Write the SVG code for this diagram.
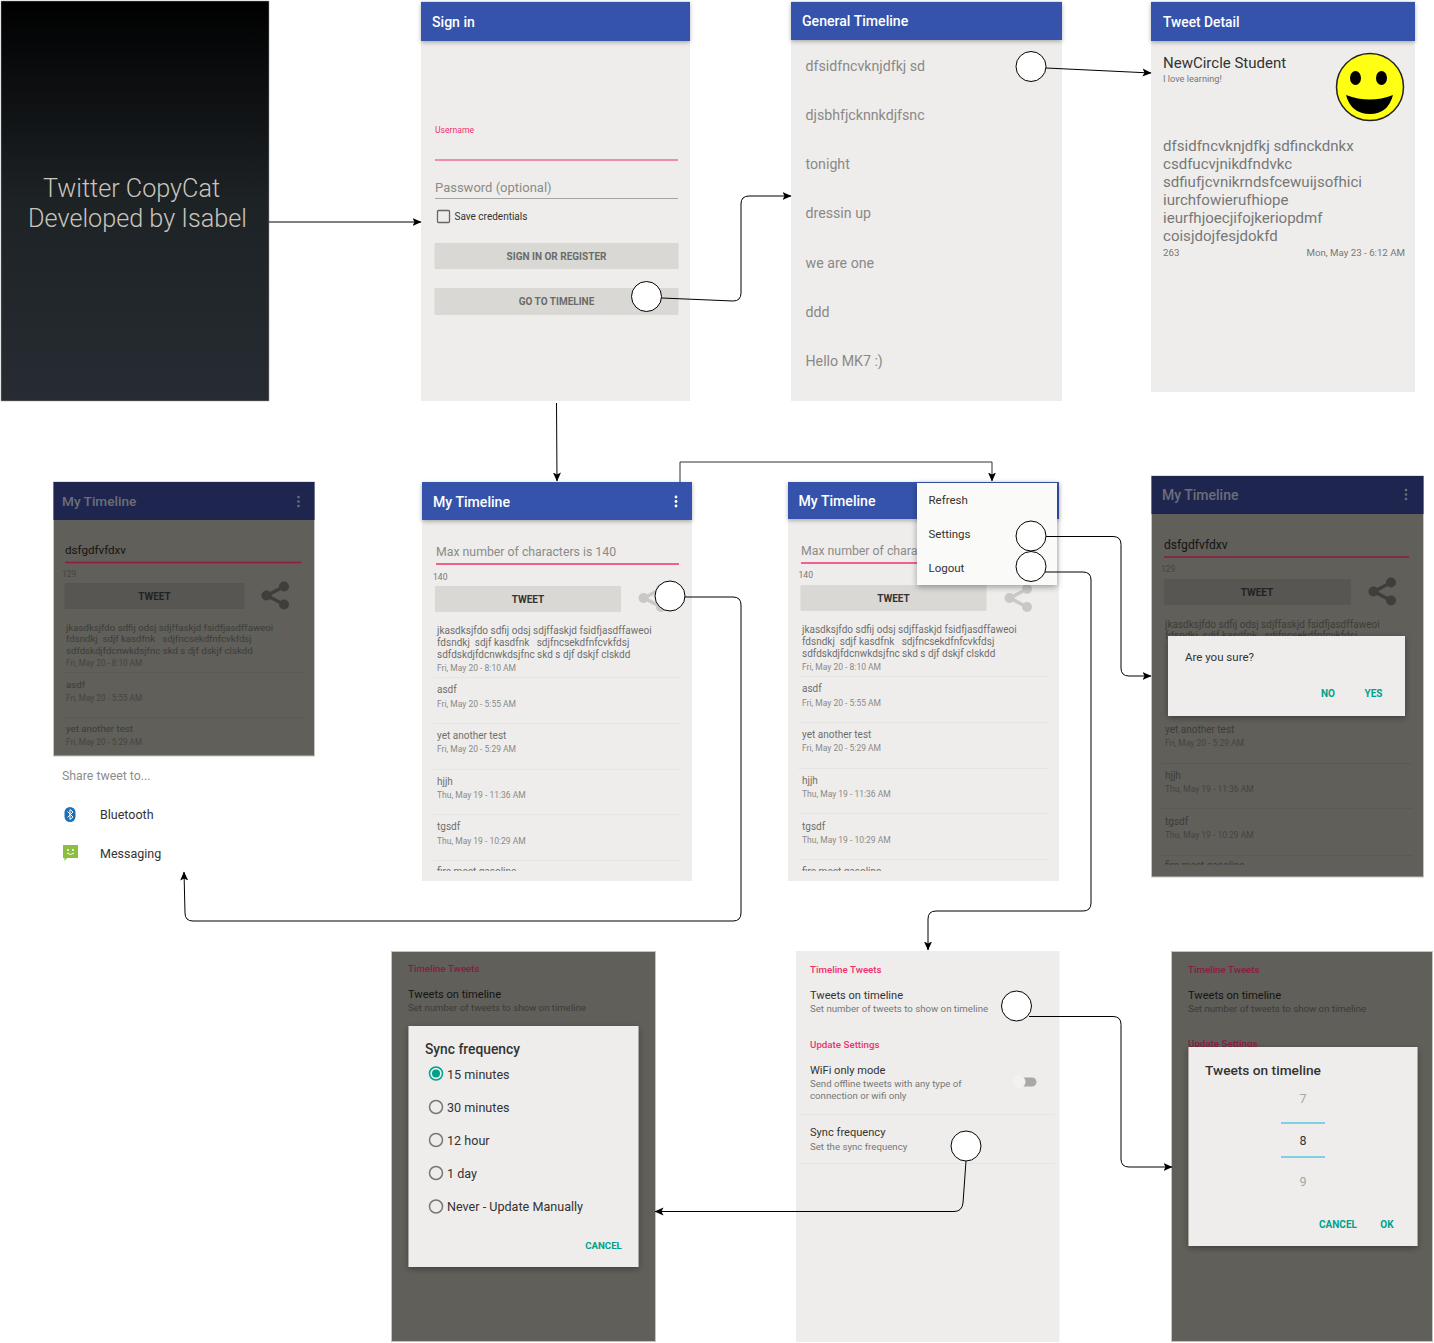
<svg xmlns="http://www.w3.org/2000/svg" width="1434" height="1343" viewBox="0 0 1434 1343">
<style>
text{font-family:Roboto,"Liberation Sans",sans-serif;white-space:pre}
.bg{fill:#eeedeb}.dk{fill:#605f59;stroke:#c4c4c0;stroke-width:1}.hd{fill:#3553ab}.hdk{fill:#1e2650}
.ttl{font-size:14.1px;font-weight:500;fill:#fff}.ttd{font-size:14px;font-weight:500;fill:#6c6e78}
.btn{fill:#d9d8d4}.btd{fill:#575652}
.tw{font-size:10px;fill:#6f6f6d}.dt{font-size:8.5px;fill:#8a8a88}
.twd{font-size:10px;fill:#3d3d39}.dtd{font-size:8.5px;fill:#454541}
.sep{stroke:#e6e5e3;stroke-width:1}.sepd{stroke:#5a5953;stroke-width:1}
.tb{font-size:10px;font-weight:700;fill:#333;text-anchor:middle}
.tp{font-size:12.3px;fill:#8b8b89}
.small{font-size:8.6px;fill:#777}
.gt{font-size:14.2px;fill:#8a8987}
.det{font-size:15.05px;fill:#777}
.menu{font-size:11.5px;fill:#333}
.pk{font-size:9.75px;font-weight:500;fill:#f0306e}.pkd{font-size:9.75px;font-weight:500;fill:#8a1c42}
.s1{font-size:11.1px;fill:#333}.s2{font-size:9.67px;fill:#777}
.s1d{font-size:11.1px;fill:#141412}.s2d{font-size:9.67px;fill:#3c3c38}
.teal{font-size:10px;font-weight:700;fill:#00a08c;text-anchor:middle}
.rd{fill:none;stroke:#777;stroke-width:1.5}
.rt{font-size:12.6px;fill:#333}
.dlgt{font-size:13.8px;font-weight:500;fill:#333}
.hit{fill:#fff;stroke:#000;stroke-width:1}
.cn{fill:none;stroke:#000;stroke-width:1;marker-end:url(#ah)}
.ln{font-size:9.66px}.ld{font-size:8.2px}
</style>
<defs>
<marker id="ah" markerUnits="userSpaceOnUse" markerWidth="10" markerHeight="10" refX="8.5" refY="4.5" orient="auto"><path d="M0 0.5L9 4.5L0 8.5L2 4.5Z" fill="#000"/></marker>
<linearGradient id="splash" x1="0" y1="0" x2="0" y2="1"><stop offset="0" stop-color="#000"/><stop offset=".5" stop-color="#1d2225"/><stop offset="1" stop-color="#272c33"/></linearGradient>
<filter id="sh" x="-10%" y="-10%" width="120%" height="125%"><feDropShadow dx="0" dy="2" stdDeviation="3" flood-color="#000" flood-opacity=".35"/></filter>
<filter id="sh2" x="-10%" y="-20%" width="120%" height="160%"><feDropShadow dx="0" dy="1.5" stdDeviation="2" flood-color="#000" flood-opacity=".3"/></filter>
<g id="share"><path d="M9-9L-8 0L9 9" fill="none" stroke="currentColor" stroke-width="3.5"/><circle cx="-8.5" cy="0" r="5"/><circle cx="9" cy="-9" r="5"/><circle cx="9" cy="9" r="5"/></g>
<clipPath id="c2"><rect x="422" y="482" width="270" height="389"/></clipPath>
<clipPath id="c3"><rect x="788" y="482" width="271" height="389"/></clipPath>
<clipPath id="c4"><rect x="1151" y="476" width="273" height="389"/></clipPath>
</defs>

<g id="splash-screen"><rect x="1" y="1" width="268" height="400" fill="url(#splash)" stroke="#999" stroke-width=".5"/>
<text x="131.500" y="197" font-size="25.2" font-weight="300" fill="#c9c5bd" text-anchor="middle">Twitter CopyCat</text>
<text x="137.500" y="227" font-size="25.2" font-weight="300" fill="#c9c5bd" text-anchor="middle">Developed by Isabel</text></g>

<g id="sign-in"><rect class="bg" x="421" y="1" width="269" height="400"/><rect class="hd" x="421" y="2" width="269" height="39" filter="url(#sh2)"/>
<text class="ttl" x="432" y="27">Sign in</text>
<text x="435" y="133" font-size="8.6" fill="#f0306e">Username</text><path d="M435 160H678" stroke="#f0306e" stroke-width="1.2"/>
<text x="435" y="192" font-size="13" fill="#8b8b89">Password (optional)</text><path d="M435 198.500H678" stroke="#a5a5a2" stroke-width="1"/>
<rect x="437.500" y="210.500" width="12" height="12" rx="1" fill="none" stroke="#666" stroke-width="1.3"/><text x="454.500" y="220" font-size="10" fill="#333">Save credentials</text>
<rect class="btn" x="434.500" y="243" width="244" height="26" rx="1"/><text class="tb" style="fill:#6b6b68" x="556.500" y="260">SIGN IN OR REGISTER</text>
<rect class="btn" x="434.500" y="288" width="244" height="27" rx="1"/><text class="tb" style="fill:#6b6b68" x="556.500" y="305">GO TO TIMELINE</text></g>

<g id="general-timeline"><rect class="bg" x="791" y="1" width="271" height="400"/><rect class="hd" x="791" y="2" width="271" height="38" filter="url(#sh2)"/>
<text class="ttl" x="802" y="26">General Timeline</text>
<text class="gt" x="805.500" y="71">dfsidfncvknjdfkj sd</text><text class="gt" x="805.500" y="120">djsbhfjcknnkdjfsnc</text><text class="gt" x="805.500" y="169">tonight</text><text class="gt" x="805.500" y="218">dressin up</text><text class="gt" x="805.500" y="267.500">we are one</text><text class="gt" x="805.500" y="316.500">ddd</text><text class="gt" x="805.500" y="366">Hello MK7 :)</text></g>

<g id="tweet-detail"><rect class="bg" x="1151" y="1" width="264" height="391"/><rect class="hd" x="1151" y="2" width="264" height="39" filter="url(#sh2)"/>
<text class="ttl" x="1163" y="27" style="font-size:13.8px">Tweet Detail</text>
<text x="1163" y="68" font-size="15" fill="#333">NewCircle Student</text><text x="1163" y="82" font-size="9.2" fill="#777">I love learning!</text>
<circle cx="1370" cy="87" r="33.500" fill="#ffff14" stroke="#222" stroke-width="1.5"/><ellipse cx="1355.500" cy="78" rx="5.500" ry="7"/><ellipse cx="1381.500" cy="78" rx="5.500" ry="7"/><path d="M1346 95Q1370 104 1393 95Q1388 114 1370 114Q1351 114 1346 95Z"/>
<text class="det" x="1163" y="151">dfsidfncvknjdfkj sdfinckdnkx</text><text class="det" x="1163" y="169">csdfucvjnikdfndvkc</text><text class="det" x="1163" y="187">sdfiufjcvnikrndsfcewuijsofhici</text><text class="det" x="1163" y="205">iurchfowierufhiope</text><text class="det" x="1163" y="223">ieurfhjoecjifojkeriopdmf</text><text class="det" x="1163" y="241">coisjdojfesjdokfd</text>
<text x="1163" y="256" font-size="9.7" fill="#777">263</text><text x="1405" y="256" font-size="9.7" fill="#777" text-anchor="end">Mon, May 23 - 6:12 AM</text></g>

<g id="share-sheet"><rect class="dk" x="53.500" y="482" width="261" height="274"/><rect class="hdk" x="53.500" y="482" width="261" height="38"/>
<text class="ttd" x="62" y="506" style="font-size:13.6px">My Timeline</text><g fill="#6c6e78"><circle cx="298.500" cy="497" r="1.3"/><circle cx="298.500" cy="501.500" r="1.3"/><circle cx="298.500" cy="506" r="1.3"/></g>
<text x="65" y="554" font-size="11.6" fill="#141412">dsfgdfvfdxv</text><path d="M65 562.500H301" stroke="#8e1b3e" stroke-width="1.3"/>
<text class="dtd" x="62" y="577">129</text><rect class="btd" x="64.500" y="583" width="180" height="26" rx="1"/><text class="tb" style="fill:#222" x="154.500" y="600">TWEET</text>
<use href="#share" x="275" y="595.500" fill="#3f3e3b" color="#3f3e3b"/>
<text class="twd ln" x="66" y="630.500">jkasdksjfdo sdfij odsj sdjffaskjd fsidfjasdffaweoi</text><text class="twd ln" x="66" y="642">fdsndkj  sdjf kasdfnk   sdjfncsekdfnfcvkfdsj</text><text class="twd ln" x="66" y="653.500">sdfdskdjfdcnwkdsjfnc skd s djf dskjf clskdd</text><text class="dtd ld" x="66" y="666">Fri, May 20 - 8:10 AM</text><path class="sepd" d="M65 672.500H304"/>
<text class="twd ln" x="66" y="687.500">asdf</text><text class="dtd ld" x="66" y="700.500">Fri, May 20 - 5:55 AM</text><path class="sepd" d="M65 717.500H304"/>
<text class="twd ln" x="66" y="732">yet another test</text><text class="dtd ld" x="66" y="745">Fri, May 20 - 5:29 AM</text>
<text x="62" y="780" font-size="12.3" fill="#8c8c8c">Share tweet to...</text>
<rect x="64.500" y="807" width="11" height="15" rx="5.5" fill="#1b6fb4"/><path d="M67.500 811.500L73 817L70 819.500V809.500L73 812L67.500 817.500" fill="none" stroke="#fff" stroke-width="1"/>
<text x="100" y="819" font-size="12.5" fill="#333">Bluetooth</text>
<path d="M63 845H78V858H67L64.500 861V858H63Z" fill="#8cbf3f"/><circle cx="68" cy="850" r="1" fill="#fff"/><circle cx="73" cy="850" r="1" fill="#fff"/><path d="M67 853Q70.500 856 74 853" fill="none" stroke="#fff" stroke-width="1"/>
<text x="100" y="857.500" font-size="12.5" fill="#333">Messaging</text></g>

<g id="my-timeline"><rect class="bg" x="422" y="482" width="270" height="399"/><rect class="hd" x="422" y="482" width="270" height="38" filter="url(#sh2)"/>
<text class="ttl" x="433" y="507">My Timeline</text><g fill="#fff"><circle cx="676" cy="497" r="1.4"/><circle cx="676" cy="501.500" r="1.4"/><circle cx="676" cy="506" r="1.4"/></g>
<text class="tp" x="436" y="556">Max number of characters is 140</text><path d="M436 564H679" stroke="#f0306e" stroke-width="1.5"/>
<text class="small" x="433" y="579.500">140</text><rect class="btn" x="435" y="586" width="186" height="26" rx="1"/><text class="tb" x="528" y="603">TWEET</text>
<use href="#share" x="652" y="598" fill="#c9c8c5" color="#c9c8c5"/>
<g clip-path="url(#c2)">
<text class="tw" x="437" y="634">jkasdksjfdo sdfij odsj sdjffaskjd fsidfjasdffaweoi</text><text class="tw" x="437" y="646">fdsndkj  sdjf kasdfnk   sdjfncsekdfnfcvkfdsj</text><text class="tw" x="437" y="657.500">sdfdskdjfdcnwkdsjfnc skd s djf dskjf clskdd</text><text class="dt" x="437" y="671">Fri, May 20 - 8:10 AM</text><path class="sep" d="M433 677.500H680"/>
<text class="tw" x="437" y="693">asdf</text><text class="dt" x="437" y="706.500">Fri, May 20 - 5:55 AM</text><path class="sep" d="M433 723.500H680"/>
<text class="tw" x="437" y="739">yet another test</text><text class="dt" x="437" y="752">Fri, May 20 - 5:29 AM</text><path class="sep" d="M433 769.500H680"/>
<text class="tw" x="437" y="785">hjjh</text><text class="dt" x="437" y="798">Thu, May 19 - 11:36 AM</text><path class="sep" d="M433 814.500H680"/>
<text class="tw" x="437" y="830">tgsdf</text><text class="dt" x="437" y="843.500">Thu, May 19 - 10:29 AM</text><path class="sep" d="M433 860.500H680"/>
<text class="tw" x="437" y="875">fire meet gasoline</text></g></g>

<g id="my-timeline-menu"><rect class="bg" x="788" y="482" width="271" height="399"/><rect class="hd" x="788" y="482" width="271" height="37" filter="url(#sh2)"/>
<text class="ttl" x="798.500" y="506">My Timeline</text>
<text class="tp" x="801" y="555">Max number of characters is 140</text><path d="M801 563H1048" stroke="#f0306e" stroke-width="1.5"/>
<text class="small" x="798.500" y="578">140</text><rect class="btn" x="800.500" y="585" width="186" height="26" rx="1"/><text class="tb" x="893.500" y="602">TWEET</text>
<use href="#share" x="1018" y="598" fill="#c9c8c5" color="#c9c8c5"/>
<g clip-path="url(#c3)">
<text class="tw" x="802" y="633">jkasdksjfdo sdfij odsj sdjffaskjd fsidfjasdffaweoi</text><text class="tw" x="802" y="645">fdsndkj  sdjf kasdfnk   sdjfncsekdfnfcvkfdsj</text><text class="tw" x="802" y="656.500">sdfdskdjfdcnwkdsjfnc skd s djf dskjf clskdd</text><text class="dt" x="802" y="669.500">Fri, May 20 - 8:10 AM</text><path class="sep" d="M798 676.500H1048"/>
<text class="tw" x="802" y="692">asdf</text><text class="dt" x="802" y="705.500">Fri, May 20 - 5:55 AM</text><path class="sep" d="M798 722.500H1048"/>
<text class="tw" x="802" y="738">yet another test</text><text class="dt" x="802" y="751">Fri, May 20 - 5:29 AM</text><path class="sep" d="M798 768.500H1048"/>
<text class="tw" x="802" y="784">hjjh</text><text class="dt" x="802" y="797">Thu, May 19 - 11:36 AM</text><path class="sep" d="M798 813.500H1048"/>
<text class="tw" x="802" y="829.500">tgsdf</text><text class="dt" x="802" y="843">Thu, May 19 - 10:29 AM</text><path class="sep" d="M798 859.500H1048"/>
<text class="tw" x="802" y="875">fire meet gasoline</text></g>
<rect x="917" y="483" width="140" height="102" fill="#fafaf8" filter="url(#sh)"/>
<text class="menu" x="928.500" y="504">Refresh</text><text class="menu" x="928.500" y="538">Settings</text><text class="menu" x="928.500" y="572">Logout</text></g>

<g id="confirm-dialog"><rect class="dk" x="1151.500" y="476" width="272" height="401"/><rect class="hdk" x="1151.500" y="476" width="272" height="38"/>
<text class="ttd" x="1162" y="500">My Timeline</text><g fill="#6c6e78"><circle cx="1406" cy="490" r="1.3"/><circle cx="1406" cy="494.500" r="1.3"/><circle cx="1406" cy="499" r="1.3"/></g>
<text x="1164" y="549" font-size="12.1" fill="#141412">dsfgdfvfdxv</text><path d="M1164 557H1409" stroke="#8e1b3e" stroke-width="1.3"/>
<text class="dtd" x="1161" y="572">129</text><rect class="btd" x="1164" y="579" width="187" height="26" rx="1"/><text class="tb" style="fill:#222" x="1257" y="596">TWEET</text>
<use href="#share" x="1382" y="591.500" fill="#3f3e3b" color="#3f3e3b"/>
<g clip-path="url(#c4)">
<text class="twd" x="1165" y="627.500">jkasdksjfdo sdfij odsj sdjffaskjd fsidfjasdffaweoi</text><text class="twd" x="1165" y="639">fdsndkj  sdjf kasdfnk   sdjfncsekdfnfcvkfdsj</text>
<text class="twd" x="1165" y="733">yet another test</text><text class="dtd" x="1165" y="746">Fri, May 20 - 5:29 AM</text><path class="sepd" d="M1162 763.500H1412"/>
<text class="twd" x="1165" y="779">hjjh</text><text class="dtd" x="1165" y="792">Thu, May 19 - 11:36 AM</text><path class="sepd" d="M1162 808.500H1412"/>
<text class="twd" x="1165" y="824.500">tgsdf</text><text class="dtd" x="1165" y="838">Thu, May 19 - 10:29 AM</text><path class="sepd" d="M1162 855.500H1412"/>
<text class="twd" x="1165" y="869">fire meet gasoline</text></g>
<rect class="bg" x="1168" y="636" width="237" height="80" filter="url(#sh)"/>
<text x="1185" y="661" font-size="11.5" fill="#333">Are you sure?</text><text class="teal" x="1328" y="697">NO</text><text class="teal" x="1373.500" y="697">YES</text></g>

<g id="sync-dialog"><rect class="dk" x="391.500" y="951.500" width="264" height="390"/>
<text class="pkd" x="408" y="972">Timeline Tweets</text><text class="s1d" x="408" y="998">Tweets on timeline</text><text class="s2d" x="408" y="1011">Set number of tweets to show on timeline</text>
<rect class="bg" x="408.500" y="1026" width="230" height="241" filter="url(#sh)"/>
<text class="dlgt" x="425" y="1053.500">Sync frequency</text>
<circle cx="436" cy="1073.500" r="6.5" fill="none" stroke="#00a08c" stroke-width="1.5"/><circle cx="436" cy="1073.500" r="4" fill="#00a08c"/><text class="rt" x="447" y="1078.500">15 minutes</text>
<circle class="rd" cx="436" cy="1107" r="6.5"/><text class="rt" x="447" y="1111.500">30 minutes</text>
<circle class="rd" cx="436" cy="1140" r="6.5"/><text class="rt" x="447" y="1144.500">12 hour</text>
<circle class="rd" cx="436" cy="1173" r="6.5"/><text class="rt" x="447" y="1177.500">1 day</text>
<circle class="rd" cx="436" cy="1206.500" r="6.5"/><text class="rt" x="447" y="1211">Never - Update Manually</text>
<text class="teal" x="603.500" y="1249" style="font-size:9.7px">CANCEL</text></g>

<g id="settings"><rect class="bg" x="796" y="951" width="263.500" height="391"/>
<text class="pk" x="810" y="973">Timeline Tweets</text><text class="s1" x="810" y="999">Tweets on timeline</text><text class="s2" x="810" y="1012">Set number of tweets to show on timeline</text>
<text class="pk" x="810" y="1048">Update Settings</text><text class="s1" x="810" y="1074">WiFi only mode</text><text class="s2" x="810" y="1087">Send offline tweets with any type of</text><text class="s2" x="810" y="1099">connection or wifi only</text>
<rect x="1014" y="1077.500" width="22.5" height="9" rx="4.5" fill="#a9a8a5"/><circle cx="1019" cy="1082" r="6.5" fill="#f2f1ef"/>
<path class="sep" d="M798 1114.500H1055"/>
<text class="s1" x="810" y="1136">Sync frequency</text><text class="s2" x="810" y="1150">Set the sync frequency</text><path class="sep" d="M798 1163.500H1055"/></g>

<g id="number-dialog"><rect class="dk" x="1171.500" y="951.500" width="261" height="390"/>
<text class="pkd" x="1188" y="973">Timeline Tweets</text><text class="s1d" x="1188" y="999">Tweets on timeline</text><text class="s2d" x="1188" y="1012">Set number of tweets to show on timeline</text><text class="pkd" x="1188" y="1047">Update Settings</text>
<rect class="bg" x="1188.500" y="1047" width="229" height="199" filter="url(#sh)"/>
<text class="dlgt" x="1205" y="1074.500" style="font-size:13.7px">Tweets on timeline</text>
<text x="1303" y="1103" font-size="12.5" fill="#a5a5a3" text-anchor="middle">7</text><path d="M1281 1123H1325M1281 1157H1325" stroke="#5ac8e4" stroke-width="1.5"/>
<text x="1303" y="1145" font-size="12.5" fill="#333" text-anchor="middle">8</text><text x="1303" y="1186" font-size="12.5" fill="#a5a5a3" text-anchor="middle">9</text>
<text class="teal" x="1338" y="1228">CANCEL</text><text class="teal" x="1387" y="1228">OK</text></g>

<g id="hotspots">
<circle class="hit" cx="646.500" cy="296.500" r="15"/><circle class="hit" cx="1031" cy="66.500" r="15"/><circle class="hit" cx="670" cy="596" r="15"/><circle class="hit" cx="1031" cy="536" r="15"/><circle class="hit" cx="1031" cy="566.500" r="15"/><circle class="hit" cx="1016.500" cy="1006" r="15"/><circle class="hit" cx="966" cy="1146" r="15"/>
</g>

<g id="connectors">
<path class="cn" d="M269 222H421"/>
<path class="cn" d="M661.500 298L733 301Q741 301 741 293V204Q741 196 749 196L791 196"/>
<path class="cn" d="M556.500 403L557 481"/>
<path class="cn" d="M680 482V462H992V481" style="stroke:#333"/>
<path class="cn" d="M1046 68L1151 73"/>
<path class="cn" d="M685 597H733Q741 597 741 605V913Q741 921 733 921H193Q185 921 185 913L184 872"/>
<path class="cn" d="M1046 536.500H1113Q1121 536.500 1121 544.500V668Q1121 676 1129 676H1151"/>
<path class="cn" d="M1045 572H1083Q1091 572 1091 580V903Q1091 911 1083 911H936Q928 911 928 919V950"/>
<path class="cn" d="M1029 1016.500H1113Q1121 1016.500 1121 1024.500V1159Q1121 1167 1129 1167H1172"/>
<path class="cn" d="M966 1161L963 1203Q962 1211.500 954 1211.500H655"/>
</g>
</svg>
